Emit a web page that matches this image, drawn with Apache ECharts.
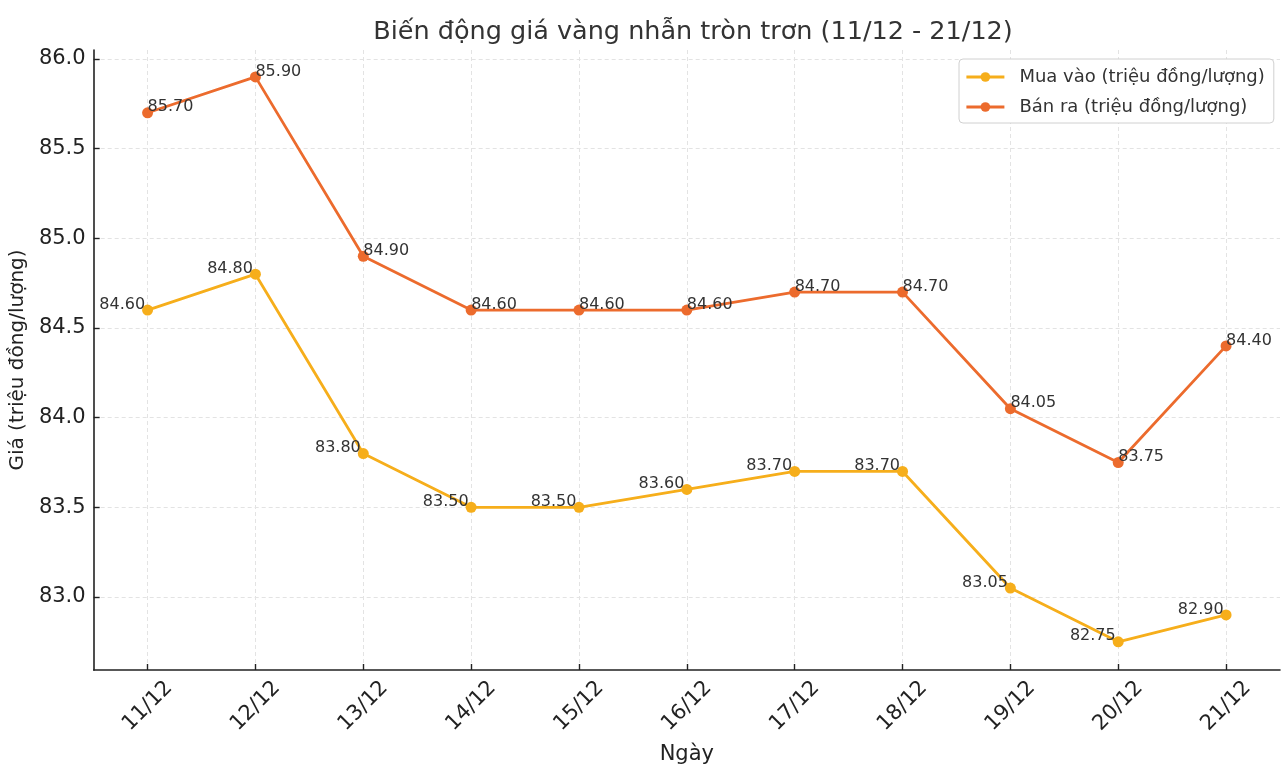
<!DOCTYPE html>
<html><head><meta charset="utf-8">
<script src="https://cdn.jsdelivr.net/npm/echarts@6/dist/echarts.min.js"></script>
<style>html,body{margin:0;padding:0;background:#fff}#c{width:1281px;height:777px}</style>
</head><body><div id="c"></div>
<script>
const days = ['11/12','12/12','13/12','14/12','15/12','16/12','17/12','18/12','19/12','20/12','21/12'];
const muaVao = [84.60, 84.80, 83.80, 83.50, 83.50, 83.60, 83.70, 83.70, 83.05, 82.75, 82.90];
const banRa = [85.70, 85.90, 84.90, 84.60, 84.60, 84.60, 84.70, 84.70, 84.05, 83.75, 84.40];
const yTicks = [83.0, 83.5, 84.0, 84.5, 85.0, 85.5, 86.0];
const xIdx = days.map((d, i) => i);

const FONT = "'DejaVu Sans', sans-serif";
const YEL = '#F6AE1B', ORA = '#EC6B2D';
const chart = echarts.init(document.getElementById('c'));
const dashed = {show: true, lineStyle: {color: '#e3e3e3', type: [4, 3], width: 1}};
chart.setOption({
  animation: false,
  textStyle: {fontFamily: FONT},
  title: {text: 'Biến động giá vàng nhẫn tròn trơn (11/12 - 21/12)', left: 688, textAlign: 'center', top: 14,
    textStyle: {fontFamily: FONT, fontSize: 25.5, fontWeight: 'normal', color: '#333'}},
  legend: {orient: 'vertical', left: 959, top: 59, padding: [9, 9, 7, 6], itemGap: 12, itemWidth: 38, itemHeight: 12,
    borderColor: '#d0d0d0', borderWidth: 1, borderRadius: 4, backgroundColor: '#fff',
    lineStyle: {width: 2.8},
    textStyle: {fontFamily: FONT, fontSize: 18, color: '#333', padding: [0, 0, 0, 10]}},
  grid: {left: 91, right: 1, top: 50, bottom: 107, containLabel: false},
  xAxis: {type: 'value', min: -0.5, max: 10.5, name: 'Ngày', nameLocation: 'middle', nameGap: 74,
    nameTextStyle: {fontFamily: FONT, fontSize: 21, color: '#222'},
    axisLine: {show: true, onZero: false, lineStyle: {color: '#222', width: 1.6}},
    axisTick: {show: true, inside: true, length: 6, customValues: xIdx, lineStyle: {color: '#222', width: 1.4}},
    axisLabel: {customValues: xIdx, rotate: 45, align: 'center', verticalAlign: 'middle', fontFamily: FONT, fontSize: 21, color: '#222', margin: 36,
      formatter: v => days[Math.round(v)]},
    splitLine: dashed},
  yAxis: {type: 'value', min: 82.593, max: 86.05, name: 'Giá (triệu đồng/lượng)', nameLocation: 'middle', nameGap: 64,
    nameTextStyle: {fontFamily: FONT, fontSize: 20, color: '#222'},
    axisLine: {show: true, onZero: false, lineStyle: {color: '#222', width: 1.6}},
    axisTick: {show: true, inside: true, length: 6, customValues: yTicks, lineStyle: {color: '#222', width: 1.4}},
    axisLabel: {customValues: yTicks, fontFamily: FONT, fontSize: 21, color: '#222', margin: 8, formatter: v => v.toFixed(1)},
    splitLine: dashed},
  series: [
    {name: 'Mua vào (triệu đồng/lượng)', type: 'line', data: muaVao.map((v, i) => [xIdx[i], v]),
      symbol: 'circle', symbolSize: 11, itemStyle: {color: YEL}, lineStyle: {color: YEL, width: 2.8},
      label: {show: true, position: [3, 0], align: 'right', verticalAlign: 'middle', fontFamily: FONT, fontSize: 16, color: '#333',
        formatter: p => p.value[1].toFixed(2)}},
    {name: 'Bán ra (triệu đồng/lượng)', type: 'line', data: banRa.map((v, i) => [xIdx[i], v]),
      symbol: 'circle', symbolSize: 11, itemStyle: {color: ORA}, lineStyle: {color: ORA, width: 2.8},
      label: {show: true, position: [5.5, 0], align: 'left', verticalAlign: 'middle', fontFamily: FONT, fontSize: 16, color: '#333',
        formatter: p => p.value[1].toFixed(2)}}
  ]
});
</script></body></html>
